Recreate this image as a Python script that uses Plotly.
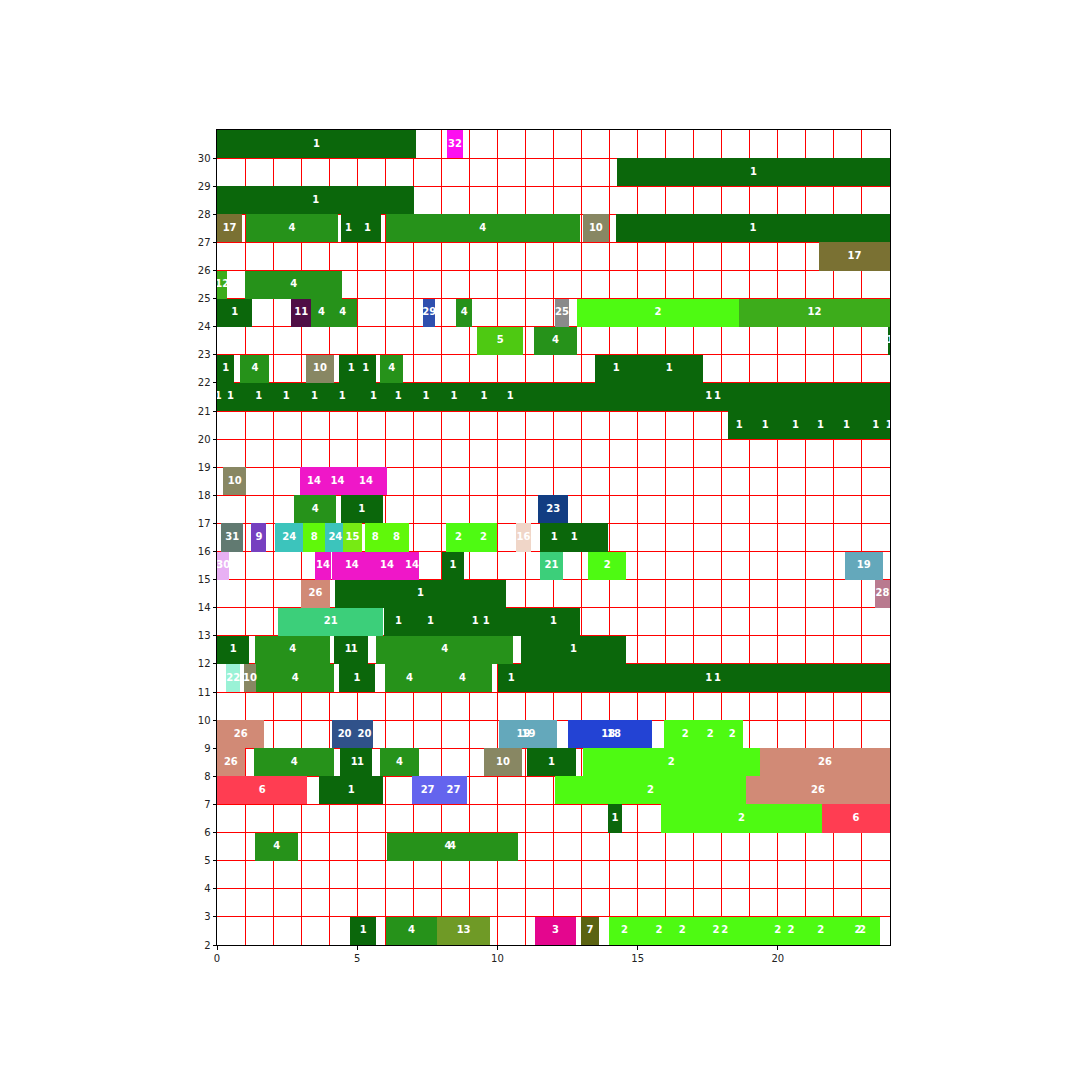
import plotly.graph_objects as go

# ---- data ----
bar_rows = [30, 30, 29, 28,
            27, 27, 27, 27, 27, 27, 27,
            26, 25, 25,
            24, 24, 24, 24, 24, 24, 24, 24, 24,
            23, 23, 23,
            22, 22, 22, 22, 22, 22, 22, 22,
            21, 21, 21, 21, 21, 21, 21, 21, 21, 21, 21, 21, 21, 21,
            20, 20, 20, 20, 20, 20, 20,
            18, 18, 18, 18,
            17, 17, 17,
            16, 16, 16, 16, 16, 16, 16, 16, 16, 16, 16, 16, 16,
            15, 15, 15, 15, 15, 15, 15, 15, 15,
            14, 14, 14,
            13, 13, 13, 13, 13, 13,
            12, 12, 12, 12, 12, 12,
            11, 11, 11, 11, 11, 11, 11, 11, 11,
            9, 9, 9, 9, 9, 9, 9, 9, 9, 9,
            8, 8, 8, 8, 8, 8, 8, 8, 8,
            7, 7, 7, 7, 7, 7,
            6, 6, 6,
            5, 5, 5,
            2, 2, 2, 2, 2, 2, 2, 2, 2, 2, 2, 2, 2, 2, 2]
bar_starts = [0, 8.2, 14.26, 0,
              0, 1.05, 4.41, 4.89, 6.01, 13.04, 14.23,
              21.46, 0, 1.0,
              0, 2.65, 3.36, 3.95, 7.35, 8.53, 12.06, 12.84, 18.61,
              9.28, 11.31, 23.92,
              0, 0.83, 3.18, 4.36, 4.92, 5.82, 13.48, 14.93,
              0, 0, 0.96, 1.96, 2.96, 3.96, 4.9, 5.96, 6.94, 7.94, 8.96, 9.96, 10.9, 11.7,
              18.23, 19.0, 20.06, 21.0, 21.9, 23.0, 23.5,
              0.23, 2.95, 3.8, 4.56,
              2.76, 4.41, 11.46,
              0.16, 1.23, 2.08, 3.07, 3.86, 4.49, 5.29, 5.95, 8.17, 9.02, 10.67, 11.52, 11.54,
              0, 3.51, 4.11, 4.91, 6.69, 8.03, 11.52, 13.24, 22.39,
              3.0, 4.22, 23.46,
              2.19, 5.97, 5.97, 6.5, 6.25, 11.05,
              0, 1.37, 4.18, 4.4, 5.68, 10.84,
              0.33, 0.95, 1.40, 4.34, 6.0, 7.7, 10.01, 10.9, 11.7,
              0, 4.11, 4.95, 10.06, 10.1, 12.52, 12.81, 15.94, 16.43, 17.99,
              0, 1.33, 4.40, 4.70, 5.82, 9.53, 11.06, 13.04, 19.36,
              0, 3.65, 6.97, 7.94, 12.06, 18.86,
              13.94, 15.83, 21.57,
              1.37, 6.07, 6.07,
              4.75, 6.02, 7.85, 11.34, 12.98, 13.98, 13.98, 15.2, 16.0, 16.6, 16.4, 17.3, 19.4, 22.06, 22.38]
bar_ends = [7.1, 8.78, 24, 7.04,
            0.9, 4.3, 4.97, 5.85, 12.95, 13.98, 24,
            24, 0.37, 4.47,
            1.26, 3.36, 4.1, 5.01, 7.78, 9.1, 12.55, 18.61, 24,
            10.92, 12.84, 24.08,
            0.62, 1.87, 4.17, 5.22, 5.68, 6.64, 15.0, 17.33,
            0.08, 0.96, 2.02, 2.98, 4.0, 4.98, 6.26, 6.96, 7.96, 8.96, 10.08, 10.96, 24.18, 24,
            19.01, 20.1, 21.2, 22.04, 23.0, 23.98, 24.44,
            1.04, 3.97, 4.8, 6.06,
            4.24, 5.92, 12.52,
            0.93, 1.76, 3.07, 3.86, 4.58, 5.17, 6.0, 6.85, 9.05, 9.98, 11.19, 12.54, 13.94,
            0.44, 4.05, 5.51, 7.21, 7.21, 8.8, 12.33, 14.59, 23.74,
            4.03, 10.3, 24,
            5.92, 6.97, 9.25, 11.92, 12.95, 12.95,
            1.15, 4.03, 5.18, 5.39, 10.56, 14.59,
            0.83, 1.40, 4.18, 5.64, 7.72, 9.80, 10.97, 24.18, 24,
            1.69, 4.99, 5.57, 11.8, 12.12, 15.38, 15.51, 17.46, 18.75, 18.75,
            0.99, 4.18, 5.38, 5.54, 7.2, 10.87, 12.8, 19.36, 24,
            3.22, 5.93, 8.05, 8.92, 18.86, 24,
            14.44, 21.57, 24,
            2.89, 10.41, 10.73,
            5.68, 7.85, 9.74, 12.8, 13.62, 15.08, 17.54, 17.98, 19.58, 19.62, 23.6, 23.64, 23.66, 23.66, 23.66]
bar_cats = [1, 32, 1, 1,
            17, 4, 1, 1, 4, 10, 1,
            17, 12, 4,
            1, 11, 4, 4, 29, 4, 25, 2, 12,
            5, 4, 1,
            1, 4, 10, 1, 1, 4, 1, 1,
            1, 1, 1, 1, 1, 1, 1, 1, 1, 1, 1, 1, 1, 1,
            1, 1, 1, 1, 1, 1, 1,
            10, 14, 14, 14,
            4, 1, 23,
            31, 9, 24, 8, 24, 15, 8, 8, 2, 2, 16, 1, 1,
            30, 14, 14, 14, 14, 1, 21, 2, 19,
            26, 1, 28,
            21, 1, 1, 1, 1, 1,
            1, 4, 1, 1, 4, 1,
            22, 10, 4, 1, 4, 4, 1, 1, 1,
            26, 20, 20, 19, 19, 18, 18, 2, 2, 2,
            26, 4, 1, 1, 4, 10, 1, 2, 26,
            6, 1, 27, 27, 2, 26,
            1, 2, 6,
            4, 4, 4,
            1, 4, 13, 3, 7, 2, 2, 2, 2, 2, 2, 2, 2, 2, 2]

x_ticks = [0, 5, 10, 15, 20]
y_ticks = list(range(2, 31))

# ---- style ----
cat_colors = {
    1: "#0b670b", 2: "#4efa12", 3: "#e4068e", 4: "#26921a", 5: "#4ec912",
    6: "#ff3d52", 7: "#5b6311", 8: "#60f80a", 9: "#7640c0", 10: "#888763",
    11: "#4f0e45", 12: "#3dac1b", 13: "#6f9a26", 14: "#ef17c8", 15: "#77ea14",
    16: "#f0d6c8", 17: "#7a7133", 18: "#2343d4", 19: "#64a8bb", 20: "#30528a",
    21: "#3ccf7a", 22: "#9af2d6", 23: "#123d82", 24: "#3cc4bc", 25: "#8a8a8a",
    26: "#d18a76", 27: "#6464ee", 28: "#b97a8f", 29: "#2e4fae", 30: "#e8b0f4",
    31: "#617a71", 32: "#fd0ff0",
}

centers_y = [r + 0.5 for r in bar_rows]
lengths = [e - s for s, e in zip(bar_starts, bar_ends)]
mid_x = [(s + e) / 2 for s, e in zip(bar_starts, bar_ends)]

fig = go.Figure()
fig.add_trace(go.Bar(
    y=centers_y, x=lengths, base=bar_starts, orientation="h", width=1,
    marker=dict(color=[cat_colors[c] for c in bar_cats], line=dict(width=0)),
    opacity=1, hoverinfo="skip",
))
fig.add_trace(go.Scatter(
    x=mid_x, y=centers_y, mode="text", text=[str(c) for c in bar_cats],
    textposition="middle center",
    textfont=dict(color="white", size=10, family="DejaVu Sans", weight="bold"),
    cliponaxis=True, hoverinfo="skip",
))

axis_common = dict(
    ticks="outside", ticklen=3.5, tickwidth=0.8, tickcolor="black",
    showline=True, linecolor="black", linewidth=1, mirror=True,
    showgrid=True, gridcolor="red", gridwidth=1, zeroline=False,
    layer="above traces",
    tickfont=dict(family="DejaVu Sans", size=10, color="#222222"),
)
fig.update_xaxes(range=[0, 24], tickvals=x_ticks,
                 minor=dict(dtick=1, tick0=0, showgrid=True, gridcolor="red", gridwidth=1, ticks=""),
                 **axis_common)
fig.update_yaxes(range=[2, 31], tickvals=y_ticks, **axis_common)

fig.update_layout(
    width=1080, height=1080,
    margin=dict(l=217, r=190, t=130, b=135),
    plot_bgcolor="white", paper_bgcolor="white",
    showlegend=False, barmode="overlay", bargap=0,
)

fig.write_html("out.html")
